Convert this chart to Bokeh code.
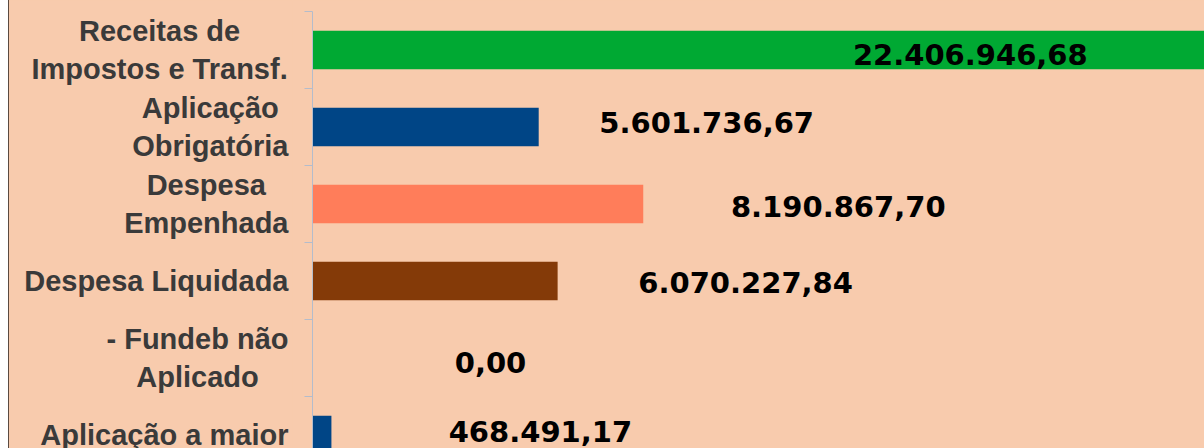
from bokeh.plotting import figure
from bokeh.layouts import row
from bokeh.models import Range1d, FixedTicker, ColumnDataSource, LabelSet
from bokeh.core.properties import value
from bokeh.embed import file_html
from bokeh.resources import INLINE

# ---- data ----
categories = [
    "Receitas de\nImpostos e Transf.",
    "Aplicação\nObrigatória",
    "Despesa\nEmpenhada",
    "Despesa Liquidada",
    "- Fundeb não\nAplicado",
    "Aplicação a maior",
]
values = [22406946.68, 5601736.67, 8190867.70, 6070227.84, 0.00, 468491.17]
colors = ["#00A933", "#004586", "#FF7D5A", "#843A08", "#004586", "#004586"]

# label placement style (pixel offsets relative to the bar end; y up-positive)
label_dx = [-247, 168, 195, 188, 178, 209]
label_dy = [-4, 5, -2, -1, -4.5, 3.5]

BG = "#F8CBAD"
CAT_FONT_PX = 29
LEFT_W = 283          # width of the category-label panel
LABEL_RIGHT = 279     # right edge of the category labels inside that panel
AXIS_PAD = 20         # border left of the bar frame (holds the tick marks)
H = 448
TOP = 11

# approximate Liberation Sans Bold advance widths (em/1000) for centring lines
_W = {" ": 278, "-": 333, ".": 278, "A": 722, "D": 722, "E": 667, "I": 278,
      "L": 611, "O": 778, "R": 722, "T": 611, "F": 611, "a": 556, "b": 611,
      "c": 556, "d": 611, "e": 556, "f": 333, "g": 611, "h": 611, "i": 278,
      "l": 278, "m": 889, "n": 611, "o": 611, "p": 611, "q": 611, "r": 389,
      "s": 556, "t": 333, "u": 611, "ç": 556, "ã": 556, "ó": 611}


def text_width_px(s, px):
    return max(sum(_W.get(ch, 600) for ch in line) for line in s.split("\n")) * px / 1000


def fmt_br(v):
    s = f"{v:,.2f}"
    return s.replace(",", "X").replace(".", ",").replace("X", ".")


positions = list(range(len(categories)))
texts = [fmt_br(v) for v in values]
cat_dx = [-text_width_px(c, CAT_FONT_PX) / 2 for c in categories]

src = ColumnDataSource(dict(y=positions, v=values, c=colors, t=texts,
                            dx=label_dx, dy=label_dy))
cat_src = ColumnDataSource(dict(y=positions, x=[LABEL_RIGHT] * len(categories),
                                t=categories, dx=cat_dx))

y_range = Range1d(-0.5 + (H - TOP) / 77, -0.5)

# ---- category label panel ----
left = figure(width=LEFT_W, height=H, output_backend="svg", toolbar_location=None,
              x_range=Range1d(0, LEFT_W), y_range=y_range,
              x_axis_location=None, y_axis_location=None,
              min_border_left=0, min_border_right=0, min_border_top=TOP,
              min_border_bottom=0,
              background_fill_color=BG, border_fill_color=BG,
              outline_line_color=None)
left.grid.visible = False
left.text(x="x", y="y", text="t", source=cat_src, x_offset="dx",
          text_align="center", text_baseline="middle",
          text_font=value("Liberation Sans"), text_font_style="bold",
          text_font_size=f"{CAT_FONT_PX}px", text_color="#3A3A3A",
          text_line_height=1.17)

# ---- bar chart ----
p = figure(width=1195 - LEFT_W, height=H, output_backend="svg", toolbar_location=None,
           x_range=Range1d(0, 22.09e6), y_range=y_range,
           x_axis_location=None,
           min_border_left=AXIS_PAD, min_border_right=0, min_border_top=TOP,
           min_border_bottom=0,
           background_fill_color=BG, border_fill_color=BG,
           outline_line_color=None)

p.hbar(y="y", left=0, right="v", height=0.5, fill_color="c", line_color=None,
       source=src)

labels = LabelSet(x="v", y="y", text="t", source=src, x_offset="dx", y_offset="dy",
                  text_align="center", text_baseline="middle",
                  text_font=value("DejaVu Sans"), text_font_style="bold",
                  text_font_size="29px", text_color="#000000")
p.add_layout(labels)

p.grid.visible = False
yax = p.yaxis[0]
yax.ticker = FixedTicker(ticks=positions,
                         minor_ticks=[i - 0.5 for i in range(len(categories) + 1)])
yax.major_label_overrides = {i: "" for i in positions}
yax.major_tick_out = 0
yax.major_tick_in = 0
yax.minor_tick_out = 8
yax.minor_tick_in = 0
yax.minor_tick_line_color = "#B4BCCB"
yax.axis_line_color = "#B4BCCB"

layout = row(left, p, spacing=0,
             styles={"margin-left": "8px", "border-left": "1px solid #5b4a40",
                     "background-color": BG})

open("out.html", "w").write(file_html(layout, INLINE))
